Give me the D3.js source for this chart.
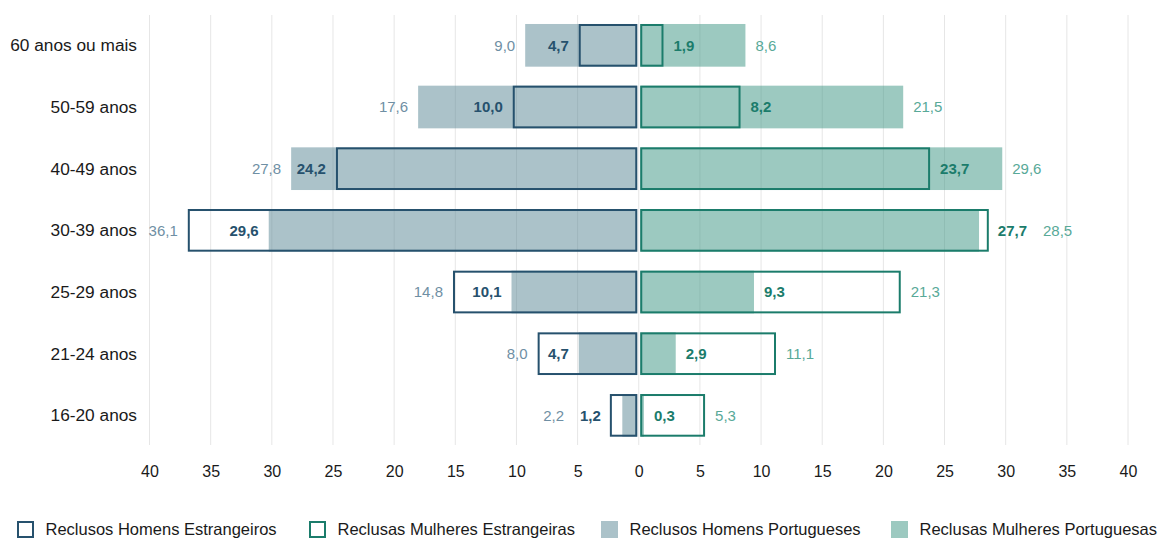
<!DOCTYPE html>
<html>
<head>
<meta charset="utf-8">
<script src="https://cdn.jsdelivr.net/npm/d3@7"></script>
<style>
  body { margin: 0; background: #fff; }
  svg { display: block; font-family: "Liberation Sans", Arial, sans-serif; }
</style>
</head>
<body>
<svg id="chart" width="1161" height="539"></svg>
<script>
// age groups, top to bottom
var ageGroups = ["60 anos ou mais", "50-59 anos", "40-49 anos", "30-39 anos", "25-29 anos", "21-24 anos", "16-20 anos"];

// % by age group
var homensPortugueses = [9.0, 17.6, 27.8, 29.6, 10.1, 4.7, 1.2];
var homensEstrangeiros = [4.7, 10.0, 24.2, 36.1, 14.8, 8.0, 2.2];
var mulheresPortuguesas = [8.6, 21.5, 29.6, 27.7, 9.3, 2.9, 0.3];
var mulheresEstrangeiras = [1.9, 8.2, 23.7, 28.5, 21.3, 11.1, 5.3];

var tickValues = [-40, -35, -30, -25, -20, -15, -10, -5, 0, 5, 10, 15, 20, 25, 30, 35, 40];

var legendItems = ["Reclusos Homens Estrangeiros", "Reclusas Mulheres Estrangeiras", "Reclusos Homens Portugueses", "Reclusas Mulheres Portuguesas"];

var col = {
  menFill: "#5d8a98", womenFill: "#419786",
  menLine: "#26516d", womenLine: "#1b7c6b",
  menLight: "#6f8fa4", womenLight: "#58a998"
};

var svg = d3.select("#chart");

var x = d3.scaleLinear().domain([-40, 40]).range([149.5, 1128]);
var y = d3.scaleBand().domain(ageGroups).range([14.5, 446.2]).paddingInner(0.308).paddingOuter(0.154);
var x0 = x(0);
var gap = 1.5;

// bar scales per side (the men's side in the original runs a little longer than its axis)
var xMen = d3.scaleLinear().domain([0, 40]).range([x0 - gap, x0 - gap - 40 * 12.45]);
var xWomen = d3.scaleLinear().domain([0, 40]).range([x0 + gap, x0 + gap + 40 * 12.23]);

// gridlines
svg.append("g").selectAll("line").data(tickValues).join("line")
  .attr("x1", d => x(d)).attr("x2", d => x(d))
  .attr("y1", 15).attr("y2", 445)
  .attr("stroke", "#e6e6e6").attr("stroke-width", 1);

// tick labels
var axis = d3.axisBottom(x).tickValues(tickValues).tickSize(0).tickFormat(d => Math.abs(d));
var ax = svg.append("g").attr("transform", "translate(0,463)").call(axis);
ax.select(".domain").remove();
ax.selectAll("text").attr("font-size", 16).attr("fill", "#1a1a1a")
  .attr("font-family", "Liberation Sans, Arial, sans-serif");

// category labels
svg.append("g").selectAll("text").data(ageGroups).join("text")
  .attr("x", 137).attr("y", d => y(d) + y.bandwidth() / 2)
  .attr("dy", "0.35em").attr("text-anchor", "end")
  .attr("font-size", 17.3).attr("fill", "#1a1a1a")
  .text(d => d);

var fmt = v => d3.format(".1f")(v).replace(".", ",");
var bh = y.bandwidth();

function drawSide(side, sx, portugueses, estrangeiros, fill, line, light) {
  var g = svg.append("g");
  var edge = sx(0);

  ageGroups.forEach(function (grp, i) {
    var yy = y(grp);
    var p = portugueses[i], e = estrangeiros[i];

    // filled bar (portugueses)
    g.append("rect")
      .attr("x", Math.min(edge, sx(p))).attr("y", yy)
      .attr("width", Math.abs(sx(p) - edge)).attr("height", bh)
      .attr("fill", fill).attr("fill-opacity", 0.52);

    // outlined bar (estrangeiros)
    var ox = Math.min(edge, sx(e)), ow = Math.abs(sx(e) - edge);
    g.append("rect")
      .attr("x", ox + 1).attr("y", yy + 1)
      .attr("width", Math.max(ow - 2, 0)).attr("height", bh - 2)
      .attr("fill", "none").attr("stroke", line).attr("stroke-width", 2);

    // labels: inner (bold) for the shorter bar, outer (light) for the longer
    var lo = Math.min(p, e), hi = Math.max(p, e);
    var cy = yy + bh / 2;
    var inner = g.append("text").attr("y", cy).attr("dy", "0.35em")
      .attr("font-size", 15).attr("font-weight", "bold").attr("fill", line)
      .attr("text-anchor", side < 0 ? "end" : "start").text(fmt(lo));
    var w = inner.node().getComputedTextLength();
    var room = Math.abs(sx(hi) - sx(lo));
    var ix, outerX;
    if (room > w + 14) {
      ix = sx(lo) + side * 10;
      outerX = sx(hi) + side * 10;
    } else {
      ix = sx(hi) + side * 9;
      outerX = ix + side * (w + 16);
    }
    inner.attr("x", ix);
    g.append("text").attr("x", outerX).attr("y", cy).attr("dy", "0.35em")
      .attr("font-size", 15).attr("fill", light)
      .attr("text-anchor", side < 0 ? "end" : "start").text(fmt(hi));
  });
}

drawSide(-1, xMen, homensPortugueses, homensEstrangeiros, col.menFill, col.menLine, col.menLight);
drawSide(1, xWomen, mulheresPortuguesas, mulheresEstrangeiras, col.womenFill, col.womenLine, col.womenLight);

// legend
var legendX = [17, 309, 601, 891];
var lg = svg.append("g");
legendItems.forEach(function (name, i) {
  var gx = legendX[i];
  var isMen = i % 2 === 0;
  if (i < 2) {
    lg.append("rect").attr("x", gx + 1).attr("y", 522).attr("width", 15).attr("height", 15)
      .attr("fill", "#fff").attr("stroke", isMen ? col.menLine : col.womenLine).attr("stroke-width", 2);
  } else {
    lg.append("rect").attr("x", gx).attr("y", 521).attr("width", 17).attr("height", 17)
      .attr("fill", isMen ? col.menFill : col.womenFill).attr("fill-opacity", 0.52);
  }
  lg.append("text").attr("x", gx + 28.5).attr("y", 535)
    .attr("font-size", 16.5).attr("fill", "#1a1a1a").text(name);
});
</script>
</body>
</html>
